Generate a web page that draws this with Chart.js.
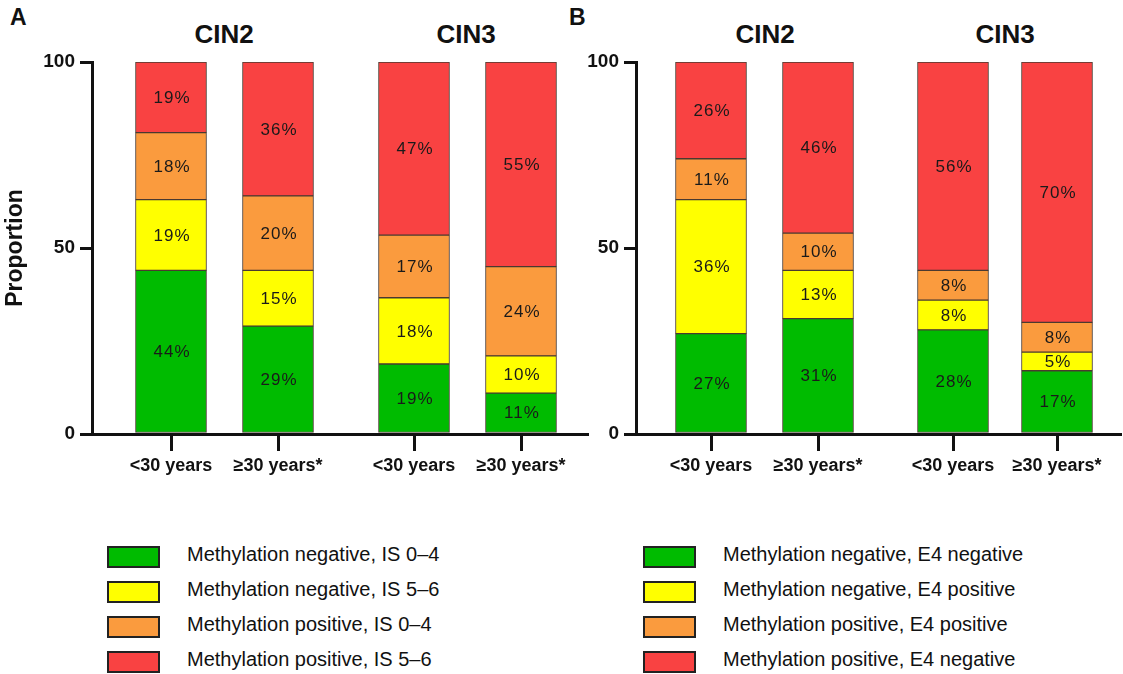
<!DOCTYPE html>
<html>
<head>
<meta charset="utf-8">
<script src="https://cdn.jsdelivr.net/npm/chart.js@4"></script>
<style>
  body { margin: 0; width: 1123px; height: 674px; background: #fff; position: relative; overflow: hidden;
         font-family: "Liberation Sans", Arial, sans-serif; color: #111; }
  .box { position: absolute; }
  .panel { position: absolute; font-weight: bold; font-size: 23px; }
  .grp { position: absolute; font-weight: bold; font-size: 26px; transform: translateX(-50%); }
  .leg { position: absolute; font-size: 20px; }
  .leg div { height: 35px; position: relative; }
  .leg span.sw { position: absolute; left: 0; top: 1px; width: 49px; height: 18px; border: 2px solid #222; }
  .leg span.tx { position: absolute; left: 80px; top: -2px; white-space: nowrap; }
</style>
</head>
<body>
<div class="panel" style="left:10px; top:4px;">A</div>
<div class="panel" style="left:569px; top:4px;">B</div>
<div class="grp" style="left:224px; top:19px;">CIN2</div>
<div class="grp" style="left:466px; top:19px;">CIN3</div>
<div class="grp" style="left:765px; top:19px;">CIN2</div>
<div class="grp" style="left:1005px; top:19px;">CIN3</div>

<div class="box" style="left:0; top:0; width:590px; height:480px;"><canvas id="chartA"></canvas></div>
<div class="box" style="left:560px; top:0; width:563px; height:480px;"><canvas id="chartB"></canvas></div>

<div class="leg" id="legA" style="left:107px; top:545px;"></div>
<div class="leg" id="legB" style="left:643px; top:545px;"></div>

<script>
const ageLabels = ['<30 years', '≥30 years*', '<30 years', '≥30 years*'];
const colors = ['#00bb00', '#ffff00', '#fa9b3e', '#f94242'];

const seriesA = ['Methylation negative, IS 0–4', 'Methylation negative, IS 5–6',
                 'Methylation positive, IS 0–4', 'Methylation positive, IS 5–6'];
// per series, values for CIN2 <30, CIN2 >=30, CIN3 <30, CIN3 >=30
const valuesA = [
  [44, 29, 19, 11],
  [19, 15, 18, 10],
  [18, 20, 17, 24],
  [19, 36, 47, 55]
];

const seriesB = ['Methylation negative, E4 negative', 'Methylation negative, E4 positive',
                 'Methylation positive, E4 positive', 'Methylation positive, E4 negative'];
const valuesB = [
  [27, 31, 28, 17],
  [36, 13, 8, 5],
  [11, 10, 8, 8],
  [26, 46, 56, 70]
];

const yTicks = [0, 50, 100];

// bar centre positions along x (pixels from the y axis)
const posA = [79, 186, 322, 429];
const posB = [75, 182, 317, 421];

const labelPlugin = {
  id: 'pctLabels',
  afterDatasetsDraw(chart) {
    const ctx = chart.ctx;
    ctx.save();
    ctx.font = '17px "Liberation Sans", Arial, sans-serif';
    ctx.letterSpacing = '1px';
    ctx.fillStyle = '#1a1a1a';
    ctx.textAlign = 'center';
    ctx.textBaseline = 'middle';
    chart.data.datasets.forEach((ds, i) => {
      chart.getDatasetMeta(i).data.forEach((bar, j) => {
        const mid = (bar.y + bar.base) / 2;
        ctx.fillText(ds.raw[j] + '%', bar.x + 1, mid + 1);
      });
    });
    ctx.restore();
  }
};

function makeChart(id, names, values, pos, yWidth, xMax, showTitle) {
  const totals = pos.map((p, j) => values.reduce((s, v) => s + v[j], 0));
  const datasets = names.map((name, i) => ({
    label: name,
    raw: values[i],
    data: pos.map((p, j) => ({ x: p, y: values[i][j] * 100 / totals[j] })),
    backgroundColor: colors[i],
    borderColor: '#4a3a30',
    borderWidth: 1,
    borderSkipped: false,
    barThickness: 71
  }));
  return new Chart(document.getElementById(id), {
    type: 'bar',
    data: { datasets },
    options: {
      responsive: true,
      maintainAspectRatio: false,
      animation: false,
      layout: { padding: { top: 62, right: 3, left: 0, bottom: 0 } },
      plugins: { legend: { display: false }, tooltip: { enabled: false } },
      scales: {
        x: {
          type: 'linear',
          min: 0,
          max: xMax,
          offset: false,
          stacked: true,
          afterBuildTicks: s => { s.ticks = pos.map(v => ({ value: v })); },
          afterFit: s => { s.height = 46; },
          ticks: {
            callback: (v, i) => ageLabels[i],
            color: '#111',
            font: { family: '"Liberation Sans", Arial, sans-serif', size: 18, weight: 'bold' },
            padding: 4,
            maxRotation: 0,
            autoSkip: false
          },
          grid: { offset: false, drawOnChartArea: false, drawTicks: true, tickLength: 17, tickColor: '#111', lineWidth: 3 },
          border: { display: true, color: '#111', width: 3 }
        },
        y: {
          stacked: true,
          min: 0,
          max: 100,
          afterBuildTicks: s => { s.ticks = yTicks.map(v => ({ value: v })); },
          afterFit: s => { s.width = yWidth; },
          ticks: {
            color: '#111',
            font: { family: '"Liberation Sans", Arial, sans-serif', size: 19, weight: 'bold' },
            padding: 5
          },
          title: {
            display: showTitle,
            text: 'Proportion',
            color: '#111',
            font: { family: '"Liberation Sans", Arial, sans-serif', size: 23, weight: 'bold' },
            padding: { top: 2, bottom: 0 }
          },
          grid: { drawOnChartArea: false, drawTicks: true, tickLength: 12, tickColor: '#111', lineWidth: 3 },
          border: { display: true, color: '#111', width: 3 }
        }
      }
    },
    plugins: [labelPlugin]
  });
}

makeChart('chartA', seriesA, valuesA, posA, 92, 495, true);
makeChart('chartB', seriesB, valuesB, posB, 76, 484, false);

function makeLegend(id, names) {
  const el = document.getElementById(id);
  names.forEach((n, i) => {
    const row = document.createElement('div');
    row.innerHTML = '<span class="sw" style="background:' + colors[i] + '"></span>' +
      '<span class="tx">' + n + '</span>';
    el.appendChild(row);
  });
}
makeLegend('legA', seriesA);
makeLegend('legB', seriesB);
</script>
</body>
</html>
